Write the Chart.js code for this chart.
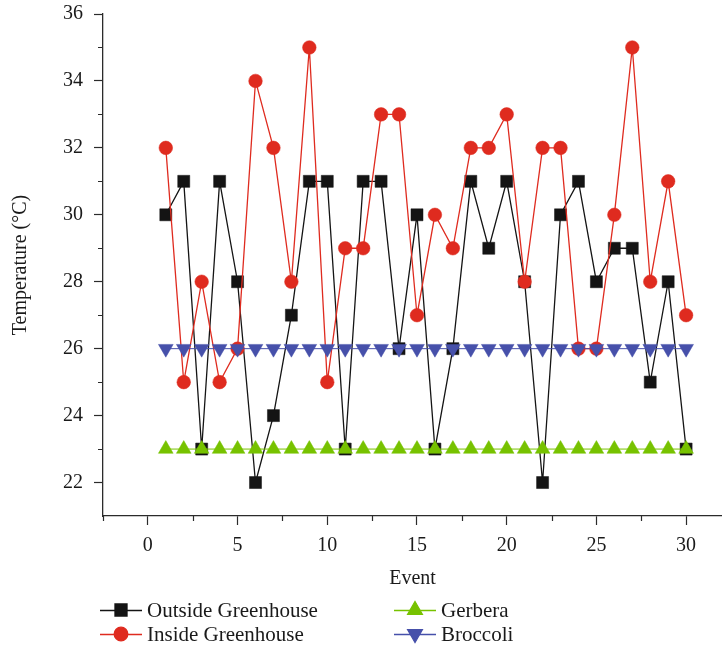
<!DOCTYPE html>
<html>
<head>
<meta charset="utf-8">
<script src="https://cdn.jsdelivr.net/npm/chart.js@4.4.1/dist/chart.umd.min.js"></script>
<style>
  html, body { margin: 0; padding: 0; background: #fff; }
  #wrap { width: 722px; height: 648px; }
</style>
</head>
<body>
<div id="wrap"><canvas id="tempChart" width="722" height="648"></canvas></div>
<script>
// Event index (x) and measured temperatures (°C)
const events = [1, 2, 3, 4, 5, 6, 7, 8, 9, 10, 11, 12, 13, 14, 15, 16, 17, 18, 19, 20, 21, 22, 23, 24, 25, 26, 27, 28, 29, 30];
const outsideTemps = [30, 31, 23, 31, 28, 22, 24, 27, 31, 31, 23, 31, 31, 26, 30, 23, 26, 31, 29, 31, 28, 22, 30, 31, 28, 29, 29, 25, 28, 23];
const insideTemps = [32, 25, 28, 25, 26, 34, 32, 28, 35, 25, 29, 29, 33, 33, 27, 30, 29, 32, 32, 33, 28, 32, 32, 26, 26, 30, 35, 28, 31, 27];
const gerberaTemps = [23, 23, 23, 23, 23, 23, 23, 23, 23, 23, 23, 23, 23, 23, 23, 23, 23, 23, 23, 23, 23, 23, 23, 23, 23, 23, 23, 23, 23, 23];
const broccoliTemps = [26, 26, 26, 26, 26, 26, 26, 26, 26, 26, 26, 26, 26, 26, 26, 26, 26, 26, 26, 26, 26, 26, 26, 26, 26, 26, 26, 26, 26, 26];

const seriesLabels = ['Outside Greenhouse', 'Inside Greenhouse', 'Gerbera', 'Broccoli'];

// Axis ticks
const xTicks = [0, 5, 10, 15, 20, 25, 30];
const xMinorTicks = [-2.5, 2.5, 7.5, 12.5, 17.5, 22.5, 27.5];
const yTicks = [22, 24, 26, 28, 30, 32, 34, 36];
const yMinorTicks = [23, 25, 27, 29, 31, 33, 35];

const FONT = "'Liberation Serif', 'DejaVu Serif', serif";
const AXIS = '#2b2b2b';
const TEXT = '#1a1a1a';
const COLORS = {
  outside: '#141414',
  inside: '#df2b1f',
  gerbera: '#77c200',
  broccoli: '#4650aa',
};

function toPoints(values) {
  return events.map((e, i) => ({ x: e, y: values[i] }));
}

function lineSet(label, values, color, style, radius, rotation, order, width) {
  return {
    label,
    data: toPoints(values),
    borderColor: color,
    backgroundColor: color,
    borderWidth: width,
    pointStyle: style,
    pointRadius: radius,
    pointHoverRadius: radius,
    pointRotation: rotation,
    pointBackgroundColor: color,
    pointBorderColor: color,
    pointBorderWidth: 0.5,
    tension: 0,
    clip: false,
    order,
  };
}

// Short outward minor ticks between the labelled ones
const minorTickPlugin = {
  id: 'minorTicks',
  afterDraw(chart) {
    const { ctx, scales: { x, y } } = chart;
    ctx.save();
    ctx.strokeStyle = AXIS;
    ctx.lineWidth = 1.2;
    ctx.beginPath();
    xMinorTicks.forEach(v => {
      const px = Math.round(x.getPixelForValue(v)) + 0.5;
      ctx.moveTo(px, x.top);
      ctx.lineTo(px, x.top + 5);
    });
    yMinorTicks.forEach(v => {
      const py = Math.round(y.getPixelForValue(v)) + 0.5;
      ctx.moveTo(y.right, py);
      ctx.lineTo(y.right - 5, py);
    });
    ctx.stroke();
    ctx.restore();
  },
};

// Two-column legend under the axis, Origin style (—■—)
const legendPlugin = {
  id: 'twoColLegend',
  afterDraw(chart) {
    const { ctx } = chart;
    const slots = [
      { index: 0, x: 100, y: 610 },
      { index: 1, x: 100, y: 634 },
      { index: 2, x: 394, y: 610 },
      { index: 3, x: 394, y: 634 },
    ];
    ctx.save();
    ctx.font = `21px ${FONT}`;
    ctx.textBaseline = 'middle';
    slots.forEach(slot => {
      const ds = chart.data.datasets[slot.index];
      ctx.strokeStyle = ds.borderColor;
      ctx.lineWidth = 1.3;
      ctx.beginPath();
      ctx.moveTo(slot.x, slot.y + 0.5);
      ctx.lineTo(slot.x + 42, slot.y + 0.5);
      ctx.stroke();
      ctx.fillStyle = ds.pointBackgroundColor;
      Chart.helpers.drawPoint(ctx, {
        pointStyle: ds.pointStyle,
        radius: ds.pointRadius,
        rotation: ds.pointRotation,
        borderWidth: 0.5,
      }, slot.x + 21, slot.y);
      ctx.fillStyle = TEXT;
      ctx.fillText(ds.label, slot.x + 47, slot.y + 1);
    });
    ctx.restore();
  },
};

const ctx = document.getElementById('tempChart').getContext('2d');

new Chart(ctx, {
  type: 'line',
  data: {
    datasets: [
      lineSet(seriesLabels[0], outsideTemps, COLORS.outside, 'rect', 8.5, 0, 4, 1.3),
      lineSet(seriesLabels[1], insideTemps, COLORS.inside, 'circle', 6.8, 0, 3, 1.3),
      lineSet(seriesLabels[2], gerberaTemps, COLORS.gerbera, 'triangle', 8.5, 0, 2, 1),
      lineSet(seriesLabels[3], broccoliTemps, COLORS.broccoli, 'triangle', 8.5, 180, 1, 1),
    ],
  },
  options: {
    responsive: false,
    animation: false,
    layout: {
      autoPadding: false,
      padding: { top: 14, right: 0, bottom: 57, left: 0 },
    },
    scales: {
      x: {
        type: 'linear',
        min: -2.5,
        max: 32,
        afterBuildTicks: scale => {
          scale.ticks = xTicks.map(value => ({ value }));
        },
        afterFit: scale => {
          scale.height = 75;
          scale.paddingLeft = 0;
          scale.paddingRight = 0;
        },
        border: { display: true, color: AXIS, width: 1.3 },
        grid: {
          drawOnChartArea: false,
          drawTicks: true,
          tickLength: 9,
          tickColor: AXIS,
          tickWidth: 1.2,
        },
        ticks: {
          color: TEXT,
          padding: 9,
          maxRotation: 0,
          font: { family: FONT, size: 20 },
        },
        title: {
          display: true,
          text: 'Event',
          color: TEXT,
          padding: { top: 0, bottom: 0 },
          font: { family: FONT, size: 20 },
        },
      },
      y: {
        type: 'linear',
        min: 21,
        max: 36,
        afterBuildTicks: scale => {
          scale.ticks = yTicks.map(value => ({ value }));
        },
        afterFit: scale => {
          scale.width = 103;
          scale.paddingTop = 0;
          scale.paddingBottom = 0;
        },
        border: { display: true, color: AXIS, width: 1.3 },
        grid: {
          drawOnChartArea: false,
          drawTicks: true,
          tickLength: 9,
          tickColor: AXIS,
          tickWidth: 1.2,
        },
        ticks: {
          color: TEXT,
          padding: 11,
          font: { family: FONT, size: 20 },
        },
        title: {
          display: true,
          text: 'Temperature (°C)',
          color: TEXT,
          padding: { top: 9, bottom: 0 },
          font: { family: FONT, size: 20 },
        },
      },
    },
    plugins: {
      legend: { display: false },
      tooltip: { enabled: false },
    },
  },
  plugins: [minorTickPlugin, legendPlugin],
});
</script>
</body>
</html>
